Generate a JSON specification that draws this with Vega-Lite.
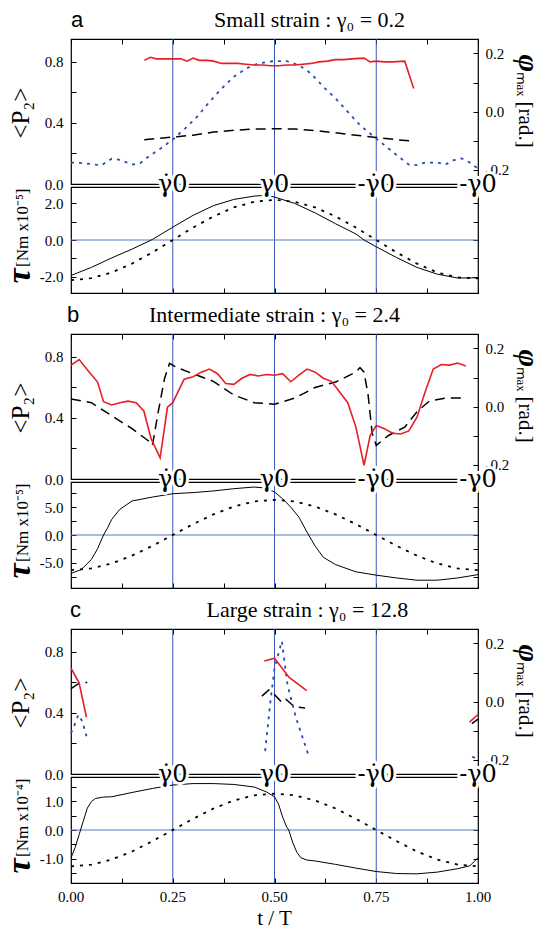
{
"$schema": "https://vega.github.io/schema/vega-lite/v6.json",
"padding": {"left": 1, "top": 8, "right": 20, "bottom": 46},
"config": {
  "view": {"stroke": "black", "strokeWidth": 1.2},
  "axis": {"labelFont": "Liberation Serif", "labelFontSize": 15, "labelColor": "black", "titleFont": "Liberation Serif", "titleFontWeight": "normal", "titleColor": "black", "tickColor": "black", "tickWidth": 1, "tickSize": -5, "labelPadding": 13, "domain": false, "grid": false, "labelFlush": false, "labelOverlap": false}
},
"datasets": {
  "vlines": [{"x":0.25},{"x":0.5},{"x":0.75}],
  "zero": [{"y":0}],
  "dummy": [{"x":0,"y":0},{"x":1,"y":0}],
  "one": [{"k":1}],
  "xlabels": [{"x":0,"t":"0.00"},{"x":0.25,"t":"0.25"},{"x":0.5,"t":"0.50"},{"x":0.75,"t":"0.75"},{"x":1,"t":"1.00"}],
  "breaks": [{"x":0.25,"label":"\u03b3\u03070"},{"x":0.5,"label":"\u03b30"},{"x":0.75,"label":"-\u03b3\u03070"},{"x":1,"label":"-\u03b30"}],
  "a_red": [{"x":0.18,"y":0.81},{"x":0.195,"y":0.83},{"x":0.21,"y":0.82},{"x":0.23,"y":0.82},{"x":0.25,"y":0.82},{"x":0.27,"y":0.82},{"x":0.285,"y":0.805},{"x":0.3,"y":0.825},{"x":0.315,"y":0.81},{"x":0.335,"y":0.81},{"x":0.35,"y":0.805},{"x":0.37,"y":0.79},{"x":0.39,"y":0.79},{"x":0.41,"y":0.79},{"x":0.43,"y":0.785},{"x":0.45,"y":0.78},{"x":0.47,"y":0.78},{"x":0.49,"y":0.775},{"x":0.51,"y":0.775},{"x":0.53,"y":0.78},{"x":0.55,"y":0.78},{"x":0.57,"y":0.785},{"x":0.59,"y":0.79},{"x":0.61,"y":0.8},{"x":0.63,"y":0.805},{"x":0.65,"y":0.815},{"x":0.67,"y":0.815},{"x":0.69,"y":0.82},{"x":0.72,"y":0.825},{"x":0.735,"y":0.8},{"x":0.75,"y":0.805},{"x":0.77,"y":0.8},{"x":0.79,"y":0.8},{"x":0.82,"y":0.805},{"x":0.842,"y":0.625}],
  "a_dash": [{"x":0.18,"y":0.29},{"x":0.22,"y":0.3},{"x":0.26,"y":0.31},{"x":0.3,"y":0.32},{"x":0.35,"y":0.34},{"x":0.4,"y":0.352},{"x":0.45,"y":0.36},{"x":0.5,"y":0.362},{"x":0.55,"y":0.36},{"x":0.6,"y":0.35},{"x":0.65,"y":0.335},{"x":0.7,"y":0.32},{"x":0.75,"y":0.305},{"x":0.8,"y":0.29},{"x":0.842,"y":0.28}],
  "a_blue": [{"x":0,"y":-0.176},{"x":0.03,"y":-0.178},{"x":0.06,"y":-0.183},{"x":0.075,"y":-0.185},{"x":0.1,"y":-0.163},{"x":0.115,"y":-0.165},{"x":0.13,"y":-0.172},{"x":0.15,"y":-0.183},{"x":0.17,"y":-0.178},{"x":0.19,"y":-0.156},{"x":0.22,"y":-0.128},{"x":0.25,"y":-0.097},{"x":0.28,"y":-0.059},{"x":0.31,"y":-0.018},{"x":0.34,"y":0.033},{"x":0.37,"y":0.079},{"x":0.4,"y":0.12},{"x":0.43,"y":0.148},{"x":0.46,"y":0.166},{"x":0.5,"y":0.174},{"x":0.53,"y":0.174},{"x":0.56,"y":0.16},{"x":0.59,"y":0.131},{"x":0.62,"y":0.085},{"x":0.65,"y":0.045},{"x":0.68,"y":-0.001},{"x":0.71,"y":-0.047},{"x":0.74,"y":-0.082},{"x":0.77,"y":-0.116},{"x":0.8,"y":-0.15},{"x":0.83,"y":-0.183},{"x":0.85,"y":-0.185},{"x":0.87,"y":-0.176},{"x":0.9,"y":-0.176},{"x":0.92,"y":-0.183},{"x":0.94,"y":-0.168},{"x":0.96,"y":-0.162},{"x":0.98,"y":-0.176},{"x":1,"y":-0.197}],
  "a_tau": [{"x":0,"y":-1.94},{"x":0.05,"y":-1.5},{"x":0.1,"y":-0.98},{"x":0.15,"y":-0.5},{"x":0.2,"y":0.03},{"x":0.25,"y":0.7},{"x":0.3,"y":1.35},{"x":0.35,"y":1.88},{"x":0.4,"y":2.22},{"x":0.45,"y":2.4},{"x":0.48,"y":2.45},{"x":0.5,"y":2.35},{"x":0.55,"y":2.0},{"x":0.6,"y":1.48},{"x":0.65,"y":0.89},{"x":0.7,"y":0.33},{"x":0.72,"y":0.0},{"x":0.75,"y":-0.37},{"x":0.8,"y":-0.96},{"x":0.85,"y":-1.5},{"x":0.9,"y":-1.87},{"x":0.95,"y":-2.08},{"x":1,"y":-2.07}],
  "a_taud": [{"x":0,"y":-2.2},{"x":0.05,"y":-2.09},{"x":0.1,"y":-1.78},{"x":0.15,"y":-1.29},{"x":0.2,"y":-0.68},{"x":0.25,"y":0},{"x":0.3,"y":0.68},{"x":0.35,"y":1.29},{"x":0.4,"y":1.78},{"x":0.45,"y":2.09},{"x":0.5,"y":2.2},{"x":0.55,"y":2.09},{"x":0.6,"y":1.78},{"x":0.65,"y":1.29},{"x":0.7,"y":0.68},{"x":0.75,"y":0},{"x":0.8,"y":-0.68},{"x":0.85,"y":-1.29},{"x":0.9,"y":-1.78},{"x":0.95,"y":-2.05},{"x":1,"y":-2.1}],
  "b_red": [{"x":0,"y":0.746},{"x":0.02,"y":0.783},{"x":0.045,"y":0.7},{"x":0.065,"y":0.637},{"x":0.08,"y":0.506},{"x":0.1,"y":0.485},{"x":0.12,"y":0.5},{"x":0.14,"y":0.51},{"x":0.16,"y":0.5},{"x":0.179,"y":0.446},{"x":0.197,"y":0.263},{"x":0.219,"y":0.139},{"x":0.237,"y":0.47},{"x":0.25,"y":0.5},{"x":0.278,"y":0.654},{"x":0.3,"y":0.67},{"x":0.32,"y":0.7},{"x":0.34,"y":0.72},{"x":0.36,"y":0.69},{"x":0.38,"y":0.625},{"x":0.4,"y":0.62},{"x":0.42,"y":0.66},{"x":0.44,"y":0.685},{"x":0.46,"y":0.675},{"x":0.48,"y":0.685},{"x":0.5,"y":0.68},{"x":0.52,"y":0.69},{"x":0.54,"y":0.637},{"x":0.56,"y":0.68},{"x":0.58,"y":0.72},{"x":0.6,"y":0.7},{"x":0.62,"y":0.66},{"x":0.64,"y":0.64},{"x":0.66,"y":0.57},{"x":0.68,"y":0.5},{"x":0.7,"y":0.34},{"x":0.72,"y":0.09},{"x":0.735,"y":0.285},{"x":0.75,"y":0.35},{"x":0.77,"y":0.33},{"x":0.79,"y":0.3},{"x":0.81,"y":0.295},{"x":0.83,"y":0.315},{"x":0.85,"y":0.405},{"x":0.87,"y":0.57},{"x":0.89,"y":0.72},{"x":0.91,"y":0.75},{"x":0.93,"y":0.746},{"x":0.95,"y":0.76},{"x":0.97,"y":0.74}],
  "b_dash": [{"x":0,"y":0.524},{"x":0.05,"y":0.5},{"x":0.1,"y":0.414},{"x":0.15,"y":0.33},{"x":0.195,"y":0.24},{"x":0.2,"y":0.22},{"x":0.215,"y":0.45},{"x":0.23,"y":0.66},{"x":0.242,"y":0.757},{"x":0.26,"y":0.73},{"x":0.3,"y":0.69},{"x":0.35,"y":0.64},{"x":0.4,"y":0.55},{"x":0.45,"y":0.5},{"x":0.5,"y":0.49},{"x":0.55,"y":0.53},{"x":0.6,"y":0.6},{"x":0.65,"y":0.635},{"x":0.7,"y":0.7},{"x":0.71,"y":0.73},{"x":0.72,"y":0.7},{"x":0.73,"y":0.55},{"x":0.74,"y":0.3},{"x":0.75,"y":0.22},{"x":0.78,"y":0.285},{"x":0.82,"y":0.34},{"x":0.85,"y":0.44},{"x":0.88,"y":0.51},{"x":0.92,"y":0.53},{"x":0.96,"y":0.53}],
  "b_tau": [{"x":0,"y":-6.9},{"x":0.025,"y":-6.2},{"x":0.05,"y":-4.4},{"x":0.065,"y":-2.5},{"x":0.08,"y":0},{"x":0.09,"y":1.3},{"x":0.1,"y":2.8},{"x":0.12,"y":4.6},{"x":0.15,"y":6.1},{"x":0.2,"y":6.8},{"x":0.25,"y":7.4},{"x":0.3,"y":7.6},{"x":0.35,"y":7.9},{"x":0.4,"y":8.3},{"x":0.45,"y":8.6},{"x":0.48,"y":8.4},{"x":0.5,"y":7.7},{"x":0.52,"y":6.5},{"x":0.54,"y":5.0},{"x":0.56,"y":3.2},{"x":0.58,"y":0.5},{"x":0.6,"y":-2.0},{"x":0.62,"y":-4.0},{"x":0.65,"y":-5.3},{"x":0.7,"y":-6.6},{"x":0.75,"y":-7.2},{"x":0.8,"y":-7.7},{"x":0.85,"y":-8.1},{"x":0.9,"y":-8.1},{"x":0.95,"y":-7.7},{"x":1,"y":-7.1}],
  "b_taud": [{"x":0,"y":-6.3},{"x":0.05,"y":-6.0},{"x":0.1,"y":-5.1},{"x":0.15,"y":-3.7},{"x":0.2,"y":-1.95},{"x":0.25,"y":0},{"x":0.3,"y":1.95},{"x":0.35,"y":3.7},{"x":0.4,"y":5.1},{"x":0.45,"y":6.0},{"x":0.5,"y":6.3},{"x":0.55,"y":6.0},{"x":0.6,"y":5.1},{"x":0.65,"y":3.7},{"x":0.7,"y":1.95},{"x":0.75,"y":0},{"x":0.8,"y":-1.95},{"x":0.85,"y":-3.7},{"x":0.9,"y":-5.1},{"x":0.95,"y":-6.0},{"x":1,"y":-6.3}],
  "c_red": [{"s":1,"x":0,"y":0.694},{"s":1,"x":0.02,"y":0.596},{"s":1,"x":0.038,"y":0.372},{"s":2,"x":0.475,"y":0.741},{"s":2,"x":0.5,"y":0.759},{"s":2,"x":0.536,"y":0.633},{"s":2,"x":0.579,"y":0.546},{"s":3,"x":0.979,"y":0.34},{"s":3,"x":1,"y":0.39}],
  "c_dash": [{"s":1,"x":0,"y":0.56},{"s":1,"x":0.02,"y":0.595},{"s":1,"x":0.04,"y":0.6},{"s":2,"x":0.469,"y":0.51},{"s":2,"x":0.486,"y":0.55},{"s":2,"x":0.5,"y":0.52},{"s":2,"x":0.518,"y":0.47},{"s":2,"x":0.528,"y":0.49},{"s":2,"x":0.549,"y":0.44},{"s":2,"x":0.575,"y":0.433},{"s":3,"x":0.985,"y":0.33},{"s":3,"x":1,"y":0.36}],
  "c_blue": [{"s":1,"x":0,"y":-0.109},{"s":1,"x":0.009,"y":-0.08},{"s":1,"x":0.018,"y":-0.046},{"s":1,"x":0.028,"y":-0.069},{"s":1,"x":0.038,"y":-0.12},{"s":2,"x":0.477,"y":-0.171},{"s":2,"x":0.49,"y":0.0},{"s":2,"x":0.5,"y":0.114},{"s":2,"x":0.518,"y":0.208},{"s":2,"x":0.532,"y":0.057},{"s":2,"x":0.553,"y":-0.057},{"s":2,"x":0.583,"y":-0.183},{"s":3,"x":0.986,"y":-0.19},{"s":3,"x":1,"y":-0.2}],
  "c_tau": [{"x":0,"y":-0.97},{"x":0.01,"y":-0.62},{"x":0.02,"y":-0.16},{"x":0.03,"y":0.3},{"x":0.04,"y":0.76},{"x":0.05,"y":0.99},{"x":0.06,"y":1.1},{"x":0.08,"y":1.15},{"x":0.1,"y":1.16},{"x":0.15,"y":1.31},{"x":0.2,"y":1.45},{"x":0.25,"y":1.57},{"x":0.3,"y":1.62},{"x":0.35,"y":1.62},{"x":0.4,"y":1.59},{"x":0.45,"y":1.5},{"x":0.48,"y":1.33},{"x":0.5,"y":1.16},{"x":0.51,"y":0.9},{"x":0.52,"y":0.45},{"x":0.53,"y":0.1},{"x":0.535,"y":0.0},{"x":0.545,"y":-0.45},{"x":0.555,"y":-0.78},{"x":0.565,"y":-0.97},{"x":0.58,"y":-1.05},{"x":0.6,"y":-1.08},{"x":0.65,"y":-1.2},{"x":0.7,"y":-1.33},{"x":0.75,"y":-1.45},{"x":0.8,"y":-1.52},{"x":0.85,"y":-1.53},{"x":0.9,"y":-1.47},{"x":0.95,"y":-1.35},{"x":0.98,"y":-1.25},{"x":1,"y":-0.97}],
  "c_taud": [{"x":0,"y":-1.27},{"x":0.05,"y":-1.21},{"x":0.1,"y":-1.03},{"x":0.15,"y":-0.75},{"x":0.2,"y":-0.39},{"x":0.25,"y":0},{"x":0.3,"y":0.39},{"x":0.35,"y":0.75},{"x":0.4,"y":1.03},{"x":0.45,"y":1.21},{"x":0.5,"y":1.27},{"x":0.55,"y":1.21},{"x":0.6,"y":1.03},{"x":0.65,"y":0.75},{"x":0.7,"y":0.39},{"x":0.75,"y":0},{"x":0.8,"y":-0.39},{"x":0.85,"y":-0.75},{"x":0.9,"y":-1.03},{"x":0.95,"y":-1.21},{"x":1,"y":-1.27}]
},
"spacing": 3,
"bounds": "flush",
"vconcat": [
  {"width": 407, "height": 145,
   "resolve": {"scale": {"y": "independent"}, "axis": {"x": "independent"}},
   "layer": [
    {"data": {"name": "vlines"}, "mark": {"type": "rule", "color": "#3a58b8", "strokeWidth": 1},
     "encoding": {"x": {"field": "x", "type": "quantitative", "scale": {"domain": [0,1]}, "axis": null}}},
    {"data": {"name": "one"}, "mark": {"type": "text", "font": "Liberation Sans", "fontSize": 22, "align": "left", "baseline": "alphabetic", "dy": -12, "dx": 0},
     "encoding": {"x": {"datum": 0, "type": "quantitative", "scale": {"domain": [0,1]}, "axis": null},
       "y": {"datum": 0.95, "type": "quantitative", "scale": {"domain": [0,0.95], "nice": false, "zero": false}, "axis": null},
       "text": {"value": "a"}}},
    {"data": {"name": "one"}, "mark": {"type": "text", "font": "Liberation Serif", "fontSize": 22, "align": "center", "baseline": "alphabetic", "dy": -12},
     "encoding": {"x": {"datum": 0.586, "type": "quantitative", "scale": {"domain": [0,1]}, "axis": null},
       "y": {"datum": 0.95, "type": "quantitative", "scale": {"domain": [0,0.95], "nice": false, "zero": false}, "axis": null},
       "text": {"value": "Small strain : \u03b3\u2080 = 0.2"}}},
    {"data": {"name": "a_dash"}, "mark": {"type": "line", "color": "black", "strokeDash": [10,6], "strokeWidth": 1.5},
     "encoding": {"x": {"field": "x", "type": "quantitative", "scale": {"domain": [0,1]}, "axis": null},
       "y": {"field": "y", "type": "quantitative", "scale": {"domain": [0,0.95], "nice": false, "zero": false}, "axis": null}}},
    {"data": {"name": "a_blue"}, "mark": {"type": "line", "color": "#2a4cb0", "strokeDash": [3,5], "strokeWidth": 1.8},
     "encoding": {"x": {"field": "x", "type": "quantitative", "scale": {"domain": [0,1]}, "axis": null},
       "y": {"field": "y", "type": "quantitative", "scale": {"domain": [-0.25,0.25], "nice": false, "zero": false},
         "axis": {"orient": "right", "values": [-0.2,-0.1,0,0.1,0.2], "labelPadding": 12, "labelExpr": "datum.value == 0.2 ? '0.2' : datum.value == 0 ? '0.0' : datum.value == -0.2 ? '-0.2' : ''", "title": "\u2098\u2090\u2093 [rad.]", "titleFontSize": 21, "titleX": 40, "titleY": 32, "titleAngle": 90, "titleAlign": "left", "titleBaseline": "alphabetic"}}}},
    {"data": {"name": "a_red"}, "mark": {"type": "line", "color": "#e41f26", "strokeWidth": 1.6},
     "encoding": {"x": {"field": "x", "type": "quantitative", "scale": {"domain": [0,1]},
         "axis": {"orient": "top", "values": [0,0.125,0.25,0.375,0.5,0.625,0.75,0.875,1], "labels": false, "title": null}},
       "y": {"field": "y", "type": "quantitative", "scale": {"domain": [0,0.95], "nice": false, "zero": false},
         "axis": {"orient": "left", "values": [0,0.2,0.4,0.6,0.8], "labelExpr": "datum.value == 0.8 ? '0.8' : datum.value == 0.4 ? '0.4' : datum.value == 0 ? '0.0' : ''", "title": "<P\u2082>", "titleFontSize": 25, "titleX": -43, "titleY": 99, "titleAngle": -90, "titleAlign": "left", "titleBaseline": "alphabetic"}}}},
    {"data": {"name": "dummy"}, "mark": {"type": "line", "opacity": 0},
     "encoding": {"x": {"field": "x", "type": "quantitative", "scale": {"domain": [0,1]}, "axis": null},
       "y": {"field": "y", "type": "quantitative", "scale": {"domain": [-0.25,0.25], "nice": false, "zero": false},
         "axis": {"orient": "right", "labels": false, "ticks": false, "title": "\u03c6", "titleFontSize": 30, "titleFontStyle": "italic", "titleFontWeight": "bold", "titleX": 40, "titleY": 15, "titleAngle": 90, "titleAlign": "left", "titleBaseline": "alphabetic"}}}}
   ]},
  {"width": 407, "height": 106,
   "resolve": {"scale": {"y": "independent"}, "axis": {"x": "independent"}},
   "layer": [
    {"data": {"name": "vlines"}, "mark": {"type": "rule", "color": "#3a58b8", "strokeWidth": 1},
     "encoding": {"x": {"field": "x", "type": "quantitative", "scale": {"domain": [0,1]}, "axis": null}}},
    {"data": {"name": "zero"}, "mark": {"type": "rule", "color": "#5a74c4", "strokeWidth": 1},
     "encoding": {"y": {"field": "y", "type": "quantitative", "scale": {"domain": [-2.9,2.9], "nice": false, "zero": false}, "axis": null}}},
    {"data": {"name": "a_taud"}, "mark": {"type": "line", "color": "black", "strokeDash": [3,6], "strokeWidth": 1.8},
     "encoding": {"x": {"field": "x", "type": "quantitative", "scale": {"domain": [0,1]}, "axis": null},
       "y": {"field": "y", "type": "quantitative", "scale": {"domain": [-2.9,2.9], "nice": false, "zero": false},
         "axis": {"orient": "right", "values": [-2,-1,0,1,2], "labels": false, "title": null}}}},
    {"data": {"name": "a_tau"}, "mark": {"type": "line", "color": "black", "strokeWidth": 1},
     "encoding": {"x": {"field": "x", "type": "quantitative", "scale": {"domain": [0,1]},
         "axis": {"orient": "bottom", "values": [0,0.125,0.25,0.375,0.5,0.625,0.75,0.875,1], "labels": false, "title": null}},
       "y": {"field": "y", "type": "quantitative", "scale": {"domain": [-2.9,2.9], "nice": false, "zero": false},
         "axis": {"orient": "left", "values": [-2,-1,0,1,2], "labelExpr": "datum.value == 2 ? '2.0' : datum.value == 0 ? '0.0' : datum.value == -2 ? '-2.0' : ''", "title": "[Nm x10\u207b\u2075]", "titleFontSize": 17, "titleX": -44, "titleY": 1, "titleAngle": -90, "titleAlign": "right", "titleBaseline": "alphabetic"}}}},
    {"data": {"name": "dummy"}, "mark": {"type": "line", "opacity": 0},
     "encoding": {"x": {"field": "x", "type": "quantitative", "scale": {"domain": [0,1]}, "axis": null},
       "y": {"field": "y", "type": "quantitative", "scale": {"domain": [-2.9,2.9], "nice": false, "zero": false},
         "axis": {"orient": "left", "labels": false, "ticks": false, "title": "\u03c4", "titleFontSize": 34, "titleFontStyle": "italic", "titleFontWeight": "bold", "titleX": -42, "titleY": 96, "titleAngle": -90, "titleAlign": "left", "titleBaseline": "alphabetic"}}}},
    {"data": {"name": "breaks"}, "mark": {"type": "text", "font": "DejaVu Serif", "fontSize": 24, "baseline": "middle", "align": "center", "dy": -2, "fill": "white", "stroke": "white", "strokeWidth": 6},
     "encoding": {"x": {"field": "x", "type": "quantitative", "scale": {"domain": [0,1]}, "axis": null},
       "y": {"datum": 2.9, "type": "quantitative", "scale": {"domain": [-2.9,2.9], "nice": false, "zero": false}, "axis": null},
       "text": {"field": "label"}}},
    {"data": {"name": "breaks"}, "mark": {"type": "text", "font": "DejaVu Serif", "fontSize": 24, "baseline": "middle", "align": "center", "dy": -2, "fill": "black"},
     "encoding": {"x": {"field": "x", "type": "quantitative", "scale": {"domain": [0,1]}, "axis": null},
       "y": {"datum": 2.9, "type": "quantitative", "scale": {"domain": [-2.9,2.9], "nice": false, "zero": false}, "axis": null},
       "text": {"field": "label"}}}
   ]},
  {"width": 407, "height": 35, "view": {"stroke": null}, "data": {"values": []}, "mark": "point"},
  {"width": 407, "height": 145,
   "resolve": {"scale": {"y": "independent"}, "axis": {"x": "independent"}},
   "layer": [
    {"data": {"name": "vlines"}, "mark": {"type": "rule", "color": "#3a58b8", "strokeWidth": 1},
     "encoding": {"x": {"field": "x", "type": "quantitative", "scale": {"domain": [0,1]}, "axis": null}}},
    {"data": {"name": "one"}, "mark": {"type": "text", "font": "Liberation Sans", "fontSize": 22, "align": "left", "baseline": "alphabetic", "dy": -12, "dx": -4},
     "encoding": {"x": {"datum": 0, "type": "quantitative", "scale": {"domain": [0,1]}, "axis": null},
       "y": {"datum": 0.95, "type": "quantitative", "scale": {"domain": [0,0.95], "nice": false, "zero": false}, "axis": null},
       "text": {"value": "b"}}},
    {"data": {"name": "one"}, "mark": {"type": "text", "font": "Liberation Serif", "fontSize": 22, "align": "center", "baseline": "alphabetic", "dy": -12},
     "encoding": {"x": {"datum": 0.5, "type": "quantitative", "scale": {"domain": [0,1]}, "axis": null},
       "y": {"datum": 0.95, "type": "quantitative", "scale": {"domain": [0,0.95], "nice": false, "zero": false}, "axis": null},
       "text": {"value": "Intermediate strain : \u03b3\u2080 = 2.4"}}},
    {"data": {"name": "b_dash"}, "mark": {"type": "line", "color": "black", "strokeDash": [10,6], "strokeWidth": 1.5},
     "encoding": {"x": {"field": "x", "type": "quantitative", "scale": {"domain": [0,1]}, "axis": null},
       "y": {"field": "y", "type": "quantitative", "scale": {"domain": [0,0.95], "nice": false, "zero": false}, "axis": null}}},
    {"data": {"name": "b_red"}, "mark": {"type": "line", "color": "#e41f26", "strokeWidth": 1.6},
     "encoding": {"x": {"field": "x", "type": "quantitative", "scale": {"domain": [0,1]},
         "axis": {"orient": "top", "values": [0,0.125,0.25,0.375,0.5,0.625,0.75,0.875,1], "labels": false, "title": null}},
       "y": {"field": "y", "type": "quantitative", "scale": {"domain": [0,0.95], "nice": false, "zero": false},
         "axis": {"orient": "left", "values": [0,0.2,0.4,0.6,0.8], "labelExpr": "datum.value == 0.8 ? '0.8' : datum.value == 0.4 ? '0.4' : datum.value == 0 ? '0.0' : ''", "title": "<P\u2082>", "titleFontSize": 25, "titleX": -43, "titleY": 99, "titleAngle": -90, "titleAlign": "left", "titleBaseline": "alphabetic"}}}},
    {"data": {"name": "dummy"}, "mark": {"type": "line", "opacity": 0},
     "encoding": {"x": {"field": "x", "type": "quantitative", "scale": {"domain": [0,1]}, "axis": null},
       "y": {"field": "y", "type": "quantitative", "scale": {"domain": [-0.25,0.25], "nice": false, "zero": false},
         "axis": {"orient": "right", "values": [-0.2,-0.1,0,0.1,0.2], "labelPadding": 12, "labelExpr": "datum.value == 0.2 ? '0.2' : datum.value == 0 ? '0.0' : datum.value == -0.2 ? '-0.2' : ''", "title": "\u2098\u2090\u2093 [rad.]", "titleFontSize": 21, "titleX": 40, "titleY": 32, "titleAngle": 90, "titleAlign": "left", "titleBaseline": "alphabetic"}}}},
    {"data": {"name": "dummy"}, "mark": {"type": "line", "opacity": 0},
     "encoding": {"x": {"field": "x", "type": "quantitative", "scale": {"domain": [0,1]}, "axis": null},
       "y": {"field": "y", "type": "quantitative", "scale": {"domain": [-0.25,0.25], "nice": false, "zero": false},
         "axis": {"orient": "right", "labels": false, "ticks": false, "title": "\u03c6", "titleFontSize": 30, "titleFontStyle": "italic", "titleFontWeight": "bold", "titleX": 40, "titleY": 15, "titleAngle": 90, "titleAlign": "left", "titleBaseline": "alphabetic"}}}}
   ]},
  {"width": 407, "height": 106,
   "resolve": {"scale": {"y": "independent"}, "axis": {"x": "independent"}},
   "layer": [
    {"data": {"name": "vlines"}, "mark": {"type": "rule", "color": "#3a58b8", "strokeWidth": 1},
     "encoding": {"x": {"field": "x", "type": "quantitative", "scale": {"domain": [0,1]}, "axis": null}}},
    {"data": {"name": "zero"}, "mark": {"type": "rule", "color": "#5a74c4", "strokeWidth": 1},
     "encoding": {"y": {"field": "y", "type": "quantitative", "scale": {"domain": [-9.5,9.5], "nice": false, "zero": false}, "axis": null}}},
    {"data": {"name": "b_taud"}, "mark": {"type": "line", "color": "black", "strokeDash": [3,6], "strokeWidth": 1.8},
     "encoding": {"x": {"field": "x", "type": "quantitative", "scale": {"domain": [0,1]}, "axis": null},
       "y": {"field": "y", "type": "quantitative", "scale": {"domain": [-9.5,9.5], "nice": false, "zero": false},
         "axis": {"orient": "right", "values": [-7.5,-5,-2.5,0,2.5,5,7.5], "labels": false, "title": null}}}},
    {"data": {"name": "b_tau"}, "mark": {"type": "line", "color": "black", "strokeWidth": 1},
     "encoding": {"x": {"field": "x", "type": "quantitative", "scale": {"domain": [0,1]},
         "axis": {"orient": "bottom", "values": [0,0.125,0.25,0.375,0.5,0.625,0.75,0.875,1], "labels": false, "title": null}},
       "y": {"field": "y", "type": "quantitative", "scale": {"domain": [-9.5,9.5], "nice": false, "zero": false},
         "axis": {"orient": "left", "values": [-7.5,-5,-2.5,0,2.5,5,7.5], "labelExpr": "datum.value == 5 ? '5.0' : datum.value == 0 ? '0.0' : datum.value == -5 ? '-5.0' : ''", "title": "[Nm x10\u207b\u2075]", "titleFontSize": 17, "titleX": -44, "titleY": 1, "titleAngle": -90, "titleAlign": "right", "titleBaseline": "alphabetic"}}}},
    {"data": {"name": "dummy"}, "mark": {"type": "line", "opacity": 0},
     "encoding": {"x": {"field": "x", "type": "quantitative", "scale": {"domain": [0,1]}, "axis": null},
       "y": {"field": "y", "type": "quantitative", "scale": {"domain": [-9.5,9.5], "nice": false, "zero": false},
         "axis": {"orient": "left", "labels": false, "ticks": false, "title": "\u03c4", "titleFontSize": 34, "titleFontStyle": "italic", "titleFontWeight": "bold", "titleX": -42, "titleY": 96, "titleAngle": -90, "titleAlign": "left", "titleBaseline": "alphabetic"}}}},
    {"data": {"name": "breaks"}, "mark": {"type": "text", "font": "DejaVu Serif", "fontSize": 24, "baseline": "middle", "align": "center", "dy": -2, "fill": "white", "stroke": "white", "strokeWidth": 6},
     "encoding": {"x": {"field": "x", "type": "quantitative", "scale": {"domain": [0,1]}, "axis": null},
       "y": {"datum": 9.5, "type": "quantitative", "scale": {"domain": [-9.5,9.5], "nice": false, "zero": false}, "axis": null},
       "text": {"field": "label"}}},
    {"data": {"name": "breaks"}, "mark": {"type": "text", "font": "DejaVu Serif", "fontSize": 24, "baseline": "middle", "align": "center", "dy": -2, "fill": "black"},
     "encoding": {"x": {"field": "x", "type": "quantitative", "scale": {"domain": [0,1]}, "axis": null},
       "y": {"datum": 9.5, "type": "quantitative", "scale": {"domain": [-9.5,9.5], "nice": false, "zero": false}, "axis": null},
       "text": {"field": "label"}}}
   ]},
  {"width": 407, "height": 35, "view": {"stroke": null}, "data": {"values": []}, "mark": "point"},
  {"width": 407, "height": 145,
   "resolve": {"scale": {"y": "independent"}, "axis": {"x": "independent"}},
   "layer": [
    {"data": {"name": "vlines"}, "mark": {"type": "rule", "color": "#3a58b8", "strokeWidth": 1},
     "encoding": {"x": {"field": "x", "type": "quantitative", "scale": {"domain": [0,1]}, "axis": null}}},
    {"data": {"name": "one"}, "mark": {"type": "text", "font": "Liberation Sans", "fontSize": 22, "align": "left", "baseline": "alphabetic", "dy": -12, "dx": -1},
     "encoding": {"x": {"datum": 0, "type": "quantitative", "scale": {"domain": [0,1]}, "axis": null},
       "y": {"datum": 0.95, "type": "quantitative", "scale": {"domain": [0,0.95], "nice": false, "zero": false}, "axis": null},
       "text": {"value": "c"}}},
    {"data": {"name": "one"}, "mark": {"type": "text", "font": "Liberation Serif", "fontSize": 22, "align": "center", "baseline": "alphabetic", "dy": -12},
     "encoding": {"x": {"datum": 0.581, "type": "quantitative", "scale": {"domain": [0,1]}, "axis": null},
       "y": {"datum": 0.95, "type": "quantitative", "scale": {"domain": [0,0.95], "nice": false, "zero": false}, "axis": null},
       "text": {"value": "Large strain : \u03b3\u2080 = 12.8"}}},
    {"data": {"name": "c_dash"}, "mark": {"type": "line", "color": "black", "strokeDash": [10,6], "strokeWidth": 1.5},
     "encoding": {"x": {"field": "x", "type": "quantitative", "scale": {"domain": [0,1]}, "axis": null},
       "y": {"field": "y", "type": "quantitative", "scale": {"domain": [0,0.95], "nice": false, "zero": false}, "axis": null},
       "detail": {"field": "s"}}},
    {"data": {"name": "c_blue"}, "mark": {"type": "line", "color": "#2a4cb0", "strokeDash": [3,5], "strokeWidth": 1.8},
     "encoding": {"x": {"field": "x", "type": "quantitative", "scale": {"domain": [0,1]}, "axis": null},
       "y": {"field": "y", "type": "quantitative", "scale": {"domain": [-0.25,0.25], "nice": false, "zero": false},
         "axis": {"orient": "right", "values": [-0.2,-0.1,0,0.1,0.2], "labelPadding": 12, "labelExpr": "datum.value == 0.2 ? '0.2' : datum.value == 0 ? '0.0' : datum.value == -0.2 ? '-0.2' : ''", "title": "\u2098\u2090\u2093 [rad.]", "titleFontSize": 21, "titleX": 40, "titleY": 32, "titleAngle": 90, "titleAlign": "left", "titleBaseline": "alphabetic"}},
       "detail": {"field": "s"}}},
    {"data": {"name": "c_red"}, "mark": {"type": "line", "color": "#e41f26", "strokeWidth": 1.6},
     "encoding": {"x": {"field": "x", "type": "quantitative", "scale": {"domain": [0,1]},
         "axis": {"orient": "top", "values": [0,0.125,0.25,0.375,0.5,0.625,0.75,0.875,1], "labels": false, "title": null}},
       "y": {"field": "y", "type": "quantitative", "scale": {"domain": [0,0.95], "nice": false, "zero": false},
         "axis": {"orient": "left", "values": [0,0.2,0.4,0.6,0.8], "labelExpr": "datum.value == 0.8 ? '0.8' : datum.value == 0.4 ? '0.4' : datum.value == 0 ? '0.0' : ''", "title": "<P\u2082>", "titleFontSize": 25, "titleX": -43, "titleY": 99, "titleAngle": -90, "titleAlign": "left", "titleBaseline": "alphabetic"}},
       "detail": {"field": "s"}}},
    {"data": {"name": "dummy"}, "mark": {"type": "line", "opacity": 0},
     "encoding": {"x": {"field": "x", "type": "quantitative", "scale": {"domain": [0,1]}, "axis": null},
       "y": {"field": "y", "type": "quantitative", "scale": {"domain": [-0.25,0.25], "nice": false, "zero": false},
         "axis": {"orient": "right", "labels": false, "ticks": false, "title": "\u03c6", "titleFontSize": 30, "titleFontStyle": "italic", "titleFontWeight": "bold", "titleX": 40, "titleY": 15, "titleAngle": 90, "titleAlign": "left", "titleBaseline": "alphabetic"}}}}
   ]},
  {"width": 407, "height": 106,
   "resolve": {"scale": {"y": "independent"}, "axis": {"x": "independent"}},
   "layer": [
    {"data": {"name": "vlines"}, "mark": {"type": "rule", "color": "#3a58b8", "strokeWidth": 1},
     "encoding": {"x": {"field": "x", "type": "quantitative", "scale": {"domain": [0,1]}, "axis": null}}},
    {"data": {"name": "zero"}, "mark": {"type": "rule", "color": "#5a74c4", "strokeWidth": 1},
     "encoding": {"y": {"field": "y", "type": "quantitative", "scale": {"domain": [-1.85,1.85], "nice": false, "zero": false}, "axis": null}}},
    {"data": {"name": "c_taud"}, "mark": {"type": "line", "color": "black", "strokeDash": [3,6], "strokeWidth": 1.8},
     "encoding": {"x": {"field": "x", "type": "quantitative", "scale": {"domain": [0,1]}, "axis": null},
       "y": {"field": "y", "type": "quantitative", "scale": {"domain": [-1.85,1.85], "nice": false, "zero": false},
         "axis": {"orient": "right", "values": [-1.5,-1,-0.5,0,0.5,1,1.5], "labels": false, "title": null}}}},
    {"data": {"name": "c_tau"}, "mark": {"type": "line", "color": "black", "strokeWidth": 1},
     "encoding": {"x": {"field": "x", "type": "quantitative", "scale": {"domain": [0,1]},
         "axis": {"orient": "bottom", "values": [0,0.125,0.25,0.375,0.5,0.625,0.75,0.875,1], "labels": false, "title": null}},
       "y": {"field": "y", "type": "quantitative", "scale": {"domain": [-1.85,1.85], "nice": false, "zero": false},
         "axis": {"orient": "left", "values": [-1.5,-1,-0.5,0,0.5,1,1.5], "labelExpr": "datum.value == 1 ? '1.0' : datum.value == 0 ? '0.0' : datum.value == -1 ? '-1.0' : ''", "title": "[Nm x10\u207b\u2074]", "titleFontSize": 17, "titleX": -44, "titleY": 1, "titleAngle": -90, "titleAlign": "right", "titleBaseline": "alphabetic"}}}},
    {"data": {"name": "dummy"}, "mark": {"type": "line", "opacity": 0},
     "encoding": {"x": {"field": "x", "type": "quantitative", "scale": {"domain": [0,1]}, "axis": null},
       "y": {"field": "y", "type": "quantitative", "scale": {"domain": [-1.85,1.85], "nice": false, "zero": false},
         "axis": {"orient": "left", "labels": false, "ticks": false, "title": "\u03c4", "titleFontSize": 34, "titleFontStyle": "italic", "titleFontWeight": "bold", "titleX": -42, "titleY": 96, "titleAngle": -90, "titleAlign": "left", "titleBaseline": "alphabetic"}}}},
    {"data": {"name": "xlabels"}, "mark": {"type": "text", "font": "Liberation Serif", "fontSize": 15, "align": "center", "baseline": "middle", "dy": 14},
     "encoding": {"x": {"field": "x", "type": "quantitative", "scale": {"domain": [0,1]}, "axis": null},
       "y": {"datum": -1.85, "type": "quantitative", "scale": {"domain": [-1.85,1.85], "nice": false, "zero": false}, "axis": null},
       "text": {"field": "t"}}},
    {"data": {"name": "one"}, "mark": {"type": "text", "font": "Liberation Serif", "fontSize": 21, "align": "center", "baseline": "middle", "dy": 36},
     "encoding": {"x": {"datum": 0.5, "type": "quantitative", "scale": {"domain": [0,1]}, "axis": null},
       "y": {"datum": -1.85, "type": "quantitative", "scale": {"domain": [-1.85,1.85], "nice": false, "zero": false}, "axis": null},
       "text": {"value": "t / T"}}},
    {"data": {"name": "breaks"}, "mark": {"type": "text", "font": "DejaVu Serif", "fontSize": 24, "baseline": "middle", "align": "center", "dy": -2, "fill": "white", "stroke": "white", "strokeWidth": 6},
     "encoding": {"x": {"field": "x", "type": "quantitative", "scale": {"domain": [0,1]}, "axis": null},
       "y": {"datum": 1.85, "type": "quantitative", "scale": {"domain": [-1.85,1.85], "nice": false, "zero": false}, "axis": null},
       "text": {"field": "label"}}},
    {"data": {"name": "breaks"}, "mark": {"type": "text", "font": "DejaVu Serif", "fontSize": 24, "baseline": "middle", "align": "center", "dy": -2, "fill": "black"},
     "encoding": {"x": {"field": "x", "type": "quantitative", "scale": {"domain": [0,1]}, "axis": null},
       "y": {"datum": 1.85, "type": "quantitative", "scale": {"domain": [-1.85,1.85], "nice": false, "zero": false}, "axis": null},
       "text": {"field": "label"}}}
   ]}
]
}
